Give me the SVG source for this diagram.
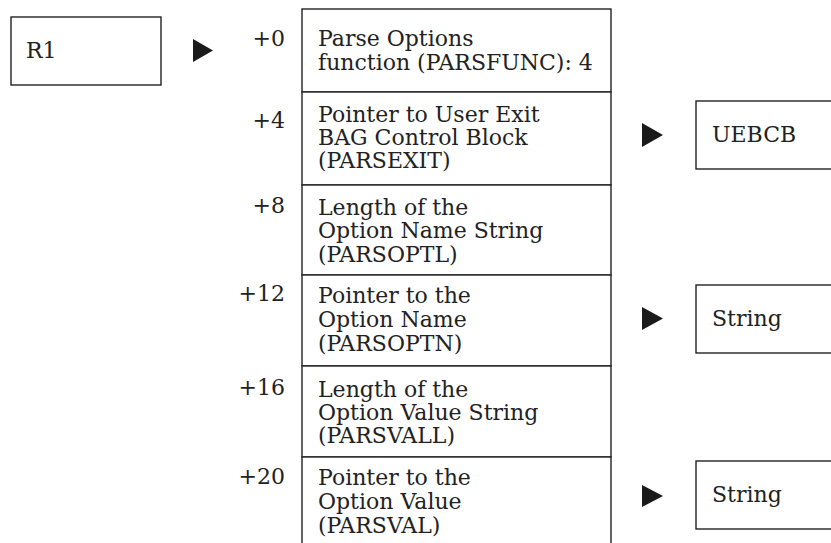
<svg xmlns="http://www.w3.org/2000/svg" width="831" height="543" viewBox="0 0 831 543">
<style>
.box{fill:#fff;stroke:#222;stroke-width:1.4}
.t{font-family:"DejaVu Serif","Liberation Serif",serif;font-size:22px;fill:#222}
.off{font-family:"DejaVu Serif","Liberation Serif",serif;font-size:22px;fill:#222;text-anchor:end}
.arr{fill:#1a1a1a;stroke:none}
</style>
<rect width="831" height="543" fill="#fff"/>
<g id="r1">
<rect class="box" x="11" y="17" width="150" height="68"/>
<text class="t" x="26" y="58">R1</text>
</g>
<g id="row0">
<rect class="box" x="302" y="9" width="309" height="83"/>
<text class="off" x="285" y="46">+0</text>
<text class="t" x="318" y="46">Parse Options</text>
<text class="t" x="318" y="70">function (PARSFUNC): 4</text>
</g>
<g id="row4b">
<rect class="box" x="302" y="92" width="309" height="93"/>
<text class="off" x="285" y="128">+4</text>
<text class="t" x="318" y="122">Pointer to User Exit</text>
<text class="t" x="318" y="145">BAG Control Block</text>
<text class="t" x="318" y="168">(PARSEXIT)</text>
</g>
<g id="row8">
<rect class="box" x="302" y="185" width="309" height="90"/>
<text class="off" x="285" y="213">+8</text>
<text class="t" x="318" y="215">Length of the</text>
<text class="t" x="318" y="238">Option Name String</text>
<text class="t" x="318" y="262">(PARSOPTL)</text>
</g>
<g id="row12">
<rect class="box" x="302" y="275" width="309" height="91"/>
<text class="off" x="285" y="301">+12</text>
<text class="t" x="318" y="303">Pointer to the</text>
<text class="t" x="318" y="327">Option Name</text>
<text class="t" x="318" y="351">(PARSOPTN)</text>
</g>
<g id="row16">
<rect class="box" x="302" y="366" width="309" height="91"/>
<text class="off" x="285" y="395">+16</text>
<text class="t" x="318" y="397">Length of the</text>
<text class="t" x="318" y="420">Option Value String</text>
<text class="t" x="318" y="443">(PARSVALL)</text>
</g>
<g id="row20">
<rect class="box" x="302" y="457" width="309" height="100"/>
<text class="off" x="285" y="484">+20</text>
<text class="t" x="318" y="485">Pointer to the</text>
<text class="t" x="318" y="509">Option Value</text>
<text class="t" x="318" y="533">(PARSVAL)</text>
</g>
<g id="uebcb">
<rect class="box" x="696" y="101" width="150" height="68"/>
<text class="t" x="712" y="142">UEBCB</text>
</g>
<g id="string1">
<rect class="box" x="696" y="285" width="150" height="68"/>
<text class="t" x="712" y="326">String</text>
</g>
<g id="string2">
<rect class="box" x="696" y="461" width="150" height="68"/>
<text class="t" x="712" y="502">String</text>
</g>
<g id="connectors">
<path class="arr" d="M193,39 L213,50.5 L193,62 Z"/>
<path class="arr" d="M642,123 L663,135 L642,147 Z"/>
<path class="arr" d="M642,307 L663,318.5 L642,330 Z"/>
<path class="arr" d="M642,485 L663,496 L642,507 Z"/>
</g>
</svg>
